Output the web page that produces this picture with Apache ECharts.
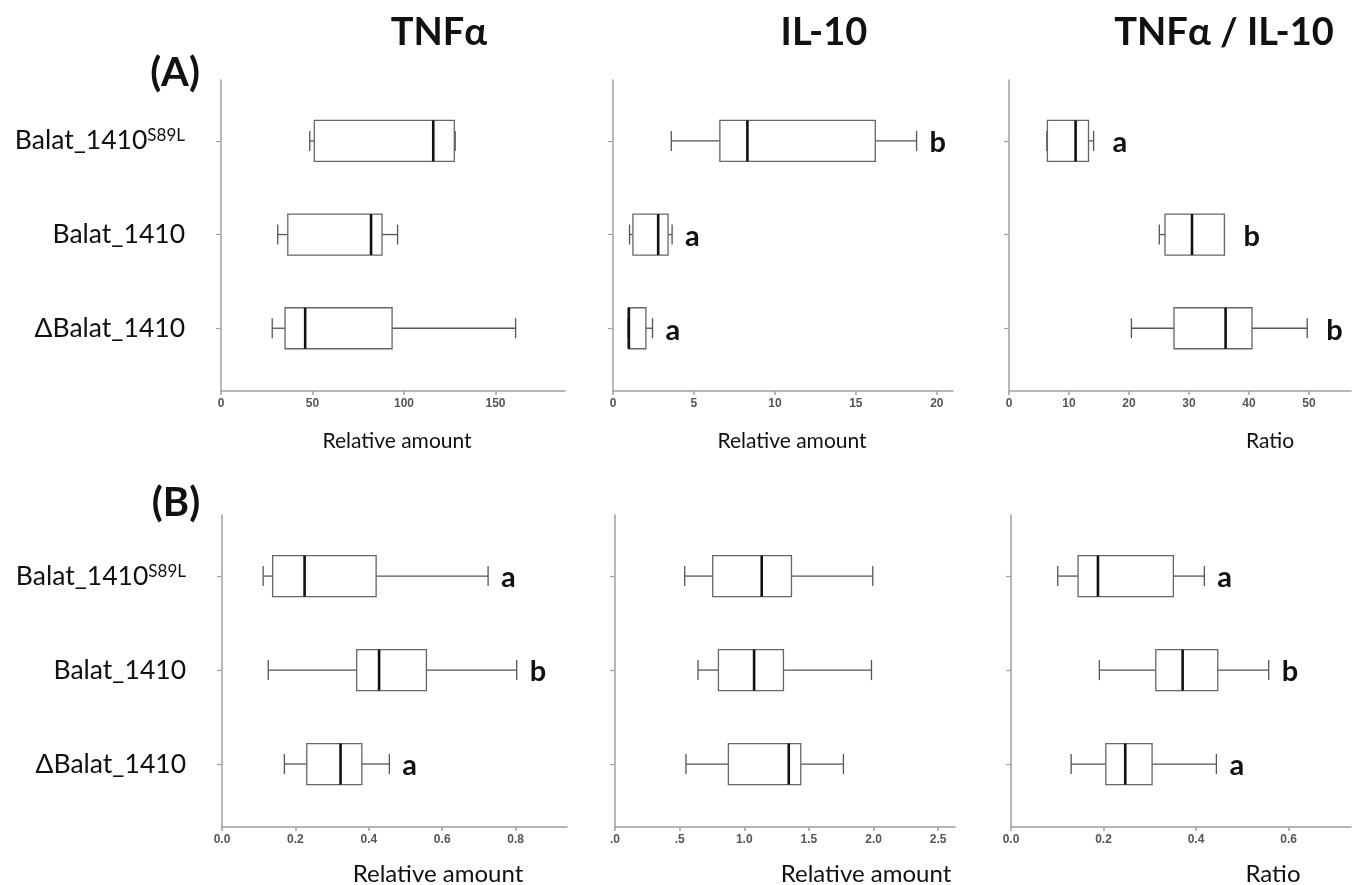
<!doctype html>
<html>
<head>
<meta charset="utf-8">
<title>TNFa and IL-10 boxplots</title>
<style>
  html, body { margin: 0; background: #fff; }
  #main { width: 1358px; height: 885px; }
</style>
</head>
<body>
<div id="main"></div>
<script src="https://cdn.jsdelivr.net/npm/echarts@6/dist/echarts.min.js"></script>
<script>
var chart = echarts.init(document.getElementById('main'));

// strains, top to bottom
var strains = ['Balat_1410', 'Balat_1410', '\u0394Balat_1410'];
var strainSup = ['S89L', '', ''];
var strainPos = [1, 2, 3];

// boxes: [min, Q1, median, Q3, max] per strain
var aTnf   = [[48.5, 51, 116, 127.5, 128], [31, 36.5, 82, 88, 96.5], [28, 35, 46, 93.5, 161]];
var aIl10  = [[3.6, 6.6, 8.3, 16.2, 18.75], [1.02, 1.23, 2.79, 3.4, 3.65], [0.93, 0.95, 0.98, 2.03, 2.44]];
var aRatio = [[6.3, 6.4, 11.1, 13.25, 14.1], [25.05, 26.0, 30.5, 35.9, 35.9], [20.4, 27.5, 36.1, 40.5, 49.7]];
var bTnf   = [[0.112, 0.138, 0.225, 0.42, 0.725], [0.126, 0.367, 0.428, 0.557, 0.803], [0.170, 0.231, 0.323, 0.381, 0.456]];
var bIl10  = [[0.539, 0.756, 1.135, 1.365, 1.994], [0.642, 0.8, 1.076, 1.303, 1.984], [0.549, 0.877, 1.344, 1.437, 1.767]];
var bRatio = [[0.101, 0.145, 0.188, 0.351, 0.418], [0.191, 0.313, 0.371, 0.447, 0.557], [0.130, 0.205, 0.247, 0.305, 0.444]];

// significance letters
var aTnfLetters   = ['', '', ''];
var aIl10Letters  = ['b', 'a', 'a'];
var aRatioLetters = ['a', 'b', 'b'];
var bTnfLetters   = ['a', 'b', 'a'];
var bIl10Letters  = ['', '', ''];
var bRatioLetters = ['a', 'b', 'a'];

// x axes
var aTnfTicks = [0, 50, 100, 150];
var aTnfLabels = ['0', '50', '100', '150'];
var aIl10Ticks = [0, 5, 10, 15, 20];
var aIl10Labels = ['0', '5', '10', '15', '20'];
var aRatioTicks = [0, 10, 20, 30, 40, 50];
var aRatioLabels = ['0', '10', '20', '30', '40', '50'];
var bTnfTicks = [0, 0.2, 0.4, 0.6, 0.8];
var bTnfLabels = ['0.0', '0.2', '0.4', '0.6', '0.8'];
var bIl10Ticks = [0, 0.5, 1, 1.5, 2, 2.5];
var bIl10Labels = ['.0', '.5', '1.0', '1.5', '2.0', '2.5'];
var bRatioTicks = [0, 0.2, 0.4, 0.6];
var bRatioLabels = ['0.0', '0.2', '0.4', '0.6'];
var axisMax = [188, 21, 57, 0.94, 2.63, 0.735];

var columnTitles = ['TNF\u03b1', 'IL-10', 'TNF\u03b1 / IL-10'];
var panelTitles = ['(A)', '(B)'];
var axisNames = ['Relative amount', 'Relative amount', 'Ratio'];

var panels = [
  {data: aTnf,   letters: aTnfLetters,   ticks: aTnfTicks,   labels: aTnfLabels,   left: 221, width: 344, top: 80,  height: 311, gap: 13},
  {data: aIl10,  letters: aIl10Letters,  ticks: aIl10Ticks,  labels: aIl10Labels,  left: 613, width: 340, top: 80,  height: 311, gap: 13},
  {data: aRatio, letters: aRatioLetters, ticks: aRatioTicks, labels: aRatioLabels, left: 1009, width: 342, top: 80, height: 311, gap: 19},
  {data: bTnf,   letters: bTnfLetters,   ticks: bTnfTicks,   labels: bTnfLabels,   left: 222, width: 345, top: 515, height: 312, gap: 13},
  {data: bIl10,  letters: bIl10Letters,  ticks: bIl10Ticks,  labels: bIl10Labels,  left: 615, width: 340, top: 515, height: 312, gap: 13},
  {data: bRatio, letters: bRatioLetters, ticks: bRatioTicks, labels: bRatioLabels, left: 1011, width: 340, top: 515, height: 312, gap: 13}
];

var FONT = 'Lato, "Open Sans", sans-serif';
var axisGray = '#a0a0a0';

function boxRenderer(letters, gap) {
  return function (params, api) {
    var pos = api.value(0);
    var c = [1, 2, 3, 4, 5].map(function (d) { return api.coord([api.value(d), pos]); });
    var cy = c[0][1];
    var h = 41, cap = 20;
    var whisk = {stroke: '#555', lineWidth: 1.3};
    var kids = [
      {type: 'line', shape: {x1: c[0][0], y1: cy, x2: c[1][0], y2: cy}, style: whisk},
      {type: 'line', shape: {x1: c[3][0], y1: cy, x2: c[4][0], y2: cy}, style: whisk},
      {type: 'line', shape: {x1: c[0][0], y1: cy - cap / 2, x2: c[0][0], y2: cy + cap / 2}, style: whisk},
      {type: 'line', shape: {x1: c[4][0], y1: cy - cap / 2, x2: c[4][0], y2: cy + cap / 2}, style: whisk},
      {type: 'rect', shape: {x: c[1][0], y: cy - h / 2, width: c[3][0] - c[1][0], height: h},
        style: {fill: '#fff', stroke: '#666', lineWidth: 1.3}},
      {type: 'line', shape: {x1: c[2][0], y1: cy - h / 2, x2: c[2][0], y2: cy + h / 2},
        style: {stroke: '#111', lineWidth: 2.6}}
    ];
    var letter = letters[params.dataIndex];
    if (letter) {
      kids.push({type: 'text', x: c[4][0] + gap, y: cy + 2,
        style: {text: letter, fill: '#111', font: 'bold 29px ' + FONT, align: 'left', verticalAlign: 'middle'}});
    }
    return {type: 'group', children: kids};
  };
}

var grids = [], xAxes = [], yAxes = [], series = [];
panels.forEach(function (p, i) {
  grids.push({left: p.left, top: p.top, width: p.width, height: p.height});
  xAxes.push({
    type: 'value', gridIndex: i, min: 0, max: axisMax[i],
    axisLine: {lineStyle: {color: axisGray, width: 1.5}},
    axisTick: {customValues: p.ticks, length: 4, lineStyle: {color: axisGray, width: 1.5}},
    axisLabel: {
      customValues: p.ticks, margin: 7,
      formatter: (function (pp) { return function (v) { return pp.labels[pp.ticks.indexOf(v)]; }; })(p),
      color: '#555', fontFamily: '"Liberation Sans", Arial, sans-serif', fontWeight: 'bold', fontSize: 12
    },
    splitLine: {show: false}
  });
  yAxes.push({
    type: 'value', gridIndex: i, inverse: true, min: 0.35, max: 3.67,
    axisLine: {show: true, lineStyle: {color: axisGray, width: 1.5}},
    axisTick: {customValues: strainPos, length: 5, lineStyle: {color: axisGray, width: 1.2}},
    axisLabel: {
      show: i % 3 === 0, customValues: strainPos, margin: 36,
      formatter: function (v) {
        var k = strainPos.indexOf(v);
        return '{n|' + strains[k] + '}' + (strainSup[k] ? '{s|' + strainSup[k] + '}' : '');
      },
      rich: {
        n: {fontFamily: FONT, fontSize: 26.5, color: '#111'},
        s: {fontFamily: FONT, fontSize: 17, color: '#111', verticalAlign: 'top'}
      }
    },
    splitLine: {show: false}
  });
  series.push({
    type: 'custom', xAxisIndex: i, yAxisIndex: i,
    renderItem: boxRenderer(p.letters, p.gap),
    encode: {x: [1, 2, 3, 4, 5], y: 0},
    data: p.data.map(function (b, k) { return [strainPos[k]].concat(b); }),
    silent: true, animation: false
  });
});

var titles = [];
var colCenters = [434, 819, 1219];
columnTitles.forEach(function (t, k) {
  titles.push({text: t, left: colCenters[k], top: 28, textAlign: 'center', textVerticalAlign: 'middle',
    textStyle: {fontFamily: FONT, fontWeight: 'bold', fontSize: 38, color: '#111'}});
});
titles.push({text: panelTitles[0], left: 170, top: 68, textAlign: 'center', textVerticalAlign: 'middle',
  textStyle: {fontFamily: FONT, fontWeight: 'bold', fontSize: 40, color: '#111'}});
titles.push({text: panelTitles[1], left: 171, top: 498, textAlign: 'center', textVerticalAlign: 'middle',
  textStyle: {fontFamily: FONT, fontWeight: 'bold', fontSize: 40, color: '#111'}});
var nameA = [392, 787, 1265], nameB = [433, 861, 1268];
axisNames.forEach(function (n, k) {
  titles.push({text: n, left: nameA[k], top: 436, textAlign: 'center', textVerticalAlign: 'middle',
    textStyle: {fontFamily: FONT, fontWeight: 'normal', fontSize: 21, color: '#111'}});
  titles.push({text: n, left: nameB[k], top: 869, textAlign: 'center', textVerticalAlign: 'middle',
    textStyle: {fontFamily: FONT, fontWeight: 'normal', fontSize: 24, color: '#111'}});
});

chart.setOption({
  backgroundColor: '#fff',
  animation: false,
  title: titles,
  grid: grids,
  xAxis: xAxes,
  yAxis: yAxes,
  series: series
});

window.addEventListener('resize', function () {
  chart.resize();
});
</script>
</body>
</html>
